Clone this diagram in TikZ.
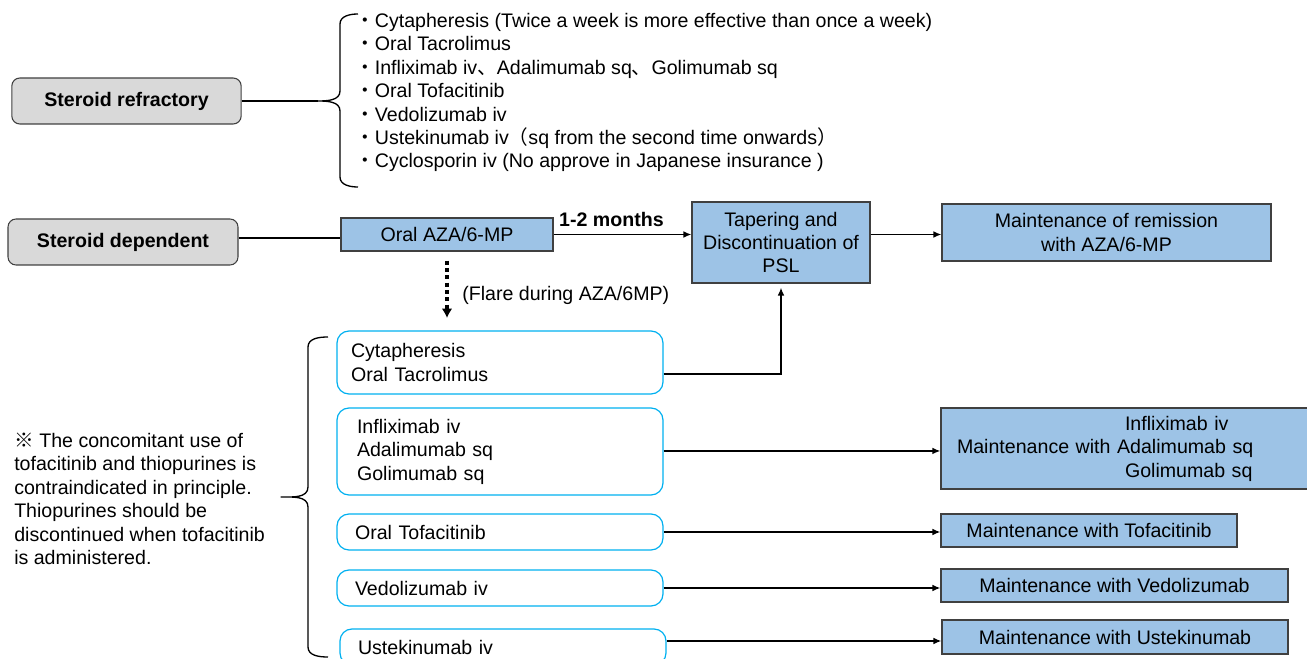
\documentclass[tikz,border=0pt]{standalone}
\usepackage{fontspec}
\setmainfont{Liberation Sans}
\newfontfamily\cjk{Noto Sans CJK JP}
\definecolor{boxblue}{HTML}{9DC3E6}
\definecolor{boxgray}{HTML}{D9D9D9}
\definecolor{edgegray}{HTML}{404040}
\definecolor{skyline}{HTML}{00B0F0}
\usetikzlibrary{arrows.meta,positioning,calc}

\begin{document}
\begin{tikzpicture}[x=0.75pt,y=-0.75pt,
  every node/.style={font=\fontsize{14.7}{17.6}\selectfont},
  graybox/.style={draw=edgegray,fill=boxgray,rounded corners=6pt,line width=0.8pt,
    minimum width=172pt,minimum height=34.5pt,font=\fontsize{14.7}{17.6}\selectfont\bfseries},
  bluebox/.style={draw=edgegray,fill=boxblue,line width=0.8pt,align=center,inner sep=0pt},
  drugbox/.style={draw=skyline,rounded corners=9pt,line width=0.9pt,align=left,inner ysep=0pt},
  link/.style={line width=1.3pt,-{Latex[length=6pt,width=5pt]}},
  stem/.style={line width=1.6pt},
  brace/.style={line width=1pt,line join=round},
  flare/.style={line width=3pt,dash pattern=on 3pt off 2.5pt,-{Latex[length=7pt,width=8pt]}}]
  \useasboundingbox (0,0) rectangle (1307,659);
  \clip (0,0) rectangle (1307,659);

  % Steroid refractory
  \node[graybox] (ref) at (126.5,101) {Steroid refractory};
  \coordinate (reftip) at (318,101);
  \draw[brace] (358,14) to[out=180,in=90] (340,24) -- (340,91)
    to[out=-90,in=0] (reftip) to[out=0,in=90] (340,111) -- (340,177)
    to[out=-90,in=180] (358,187);
  \draw[stem] (ref.east) -- (reftip);
  \node[anchor=west,align=left,inner sep=0pt] (reflist) at (355,92.5)
    {{\cjk ・}Cytapheresis (Twice a week is more effective than once a week)\\
     {\cjk ・}Oral Tacrolimus\\
     {\cjk ・}Infliximab iv{\cjk 、}Adalimumab sq{\cjk 、}Golimumab sq\\
     {\cjk ・}Oral Tofacitinib\\
     {\cjk ・}Vedolizumab iv\\
     {\cjk ・}Ustekinumab iv{\cjk （}sq from the second time onwards{\cjk ）}\\
     {\cjk ・}Cyclosporin iv (No approve in Japanese insurance )};

  % Steroid dependent
  \node[graybox,minimum width=172.5pt] (dep) at (123,242) {Steroid dependent};
  \node[bluebox,minimum width=159pt,minimum height=24.75pt] (aza) at (447,234.5) {Oral AZA/6-MP};
  \node[bluebox,minimum width=133.5pt,minimum height=60.75pt] (taper) at (781,242.5)
    {Tapering and\\Discontinuation of\\PSL};
  \node[bluebox,minimum width=246.75pt,minimum height=42.75pt] (remission) at (1106.5,232.5)
    {Maintenance of remission\\with AZA/6-MP};
  \draw[stem] ([yshift=3pt]dep.east) coordinate (depout) -- (depout -| aza.west);
  \draw[link] (aza.east) -- (aza.east -| taper.west)
    node[pos=0.42,above=1.5pt,font=\fontsize{14.7}{17.6}\selectfont\bfseries] {1-2 months};
  \draw[link] (taper.east |- aza.east) -- (remission.west |- aza.east);

  % Flare during AZA/6MP
  \coordinate (flareend) at (447,318);
  \draw[flare] ([yshift=-6.75pt]aza.south) -- (flareend);
  \node[anchor=west,inner sep=0pt] (flarelabel) at (462,295) {(Flare during AZA/6MP)};

  % Second line treatment
  \node[drugbox,inner xsep=10.5pt,text width=223.5pt,minimum height=47.25pt] (c1) at (500,362.5)
    {Cytapheresis\\Oral Tacrolimus};
  \node[drugbox,inner xsep=15pt,text width=214.5pt,minimum height=65.25pt] (c2) at (500,451.5)
    {Infliximab iv\\Adalimumab sq\\Golimumab sq};
  \node[drugbox,inner xsep=13.5pt,text width=217.5pt,minimum height=27pt] (c3) at (500,532)
    {Oral Tofacitinib};
  \node[drugbox,inner xsep=13.5pt,text width=217.5pt,minimum height=27pt] (c4) at (500,588)
    {Vedolizumab iv};
  \node[drugbox,inner xsep=13.5pt,text width=217.5pt,minimum height=27pt] (c5) at (503,647)
    {Ustekinumab iv};
  \coordinate (deptip) at (281,497);
  \draw[brace] (328,337) to[out=180,in=90] (308,347) -- (308,487)
    to[out=-90,in=0] (deptip) to[out=0,in=90] (308,507) -- (308,647)
    to[out=-90,in=180] (328,657);

  % Maintenance
  \node[bluebox,align=left,inner xsep=12pt,text width=252.75pt,minimum height=60.75pt] (r2) at (1125.5,448.5)
    {\hspace*{126pt}Infliximab iv\\Maintenance with Adalimumab sq\\\hspace*{126pt}Golimumab sq};
  \node[bluebox,minimum width=222pt,minimum height=24.75pt] (r3) at (1089,530.5) {Maintenance with Tofacitinib};
  \node[bluebox,minimum width=260.25pt,minimum height=24.75pt] (r4) at (1114.5,585.5) {Maintenance with Vedolizumab};
  \node[bluebox,minimum width=259.5pt,minimum height=25.5pt] (r5) at (1115,637) {Maintenance with Ustekinumab};

  \draw[link] ([yshift=-8.6pt]c1.east) -| ([yshift=-3pt]taper.south);
  \draw[link] ([yshift=0.4pt]c2.east) coordinate (c2out) -- (c2out -| r2.west);
  \draw[link] (c3.east) -- (c3.east -| r3.west);
  \draw[link] (c4.east) -- (c4.east -| r4.west);
  \draw[link] ([yshift=4.5pt]c5.east) coordinate (c5out) -- (c5out -| r5.west);

  % Note
  \node[anchor=west,align=left,inner sep=0pt] (note) at (14,499)
    {{\cjk ※} The concomitant use of\\tofacitinib and thiopurines is\\contraindicated in principle.\\
     Thiopurines should be\\discontinued when tofacitinib\\is administered.};
\end{tikzpicture}
\end{document}
